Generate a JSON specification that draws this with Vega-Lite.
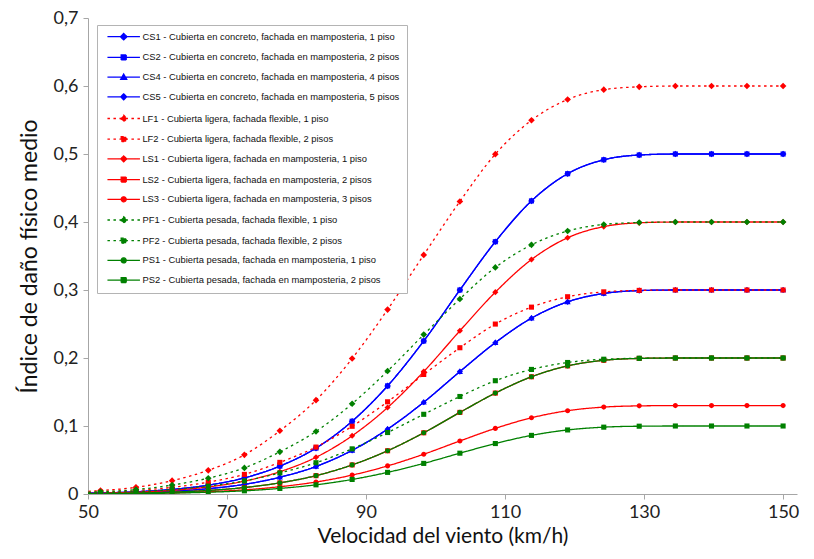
{
  "$schema": "https://vega.github.io/schema/vega-lite/v6.json",
  "width": 709,
  "height": 476,
  "autosize": "none",
  "padding": {"left": 88, "top": 18, "right": 17, "bottom": 65},
  "background": "white",
  "config": {"view": {"stroke": null}, "font": "Lato"},
  "datasets": {
    "nombres": [
      {"s": "CS1", "label": "CS1 - Cubierta en concreto, fachada en mamposteria, 1 piso"},
      {"s": "CS2", "label": "CS2 - Cubierta en concreto, fachada en mamposteria, 2 pisos"},
      {"s": "CS4", "label": "CS4 - Cubierta en concreto, fachada en mamposteria, 4 pisos"},
      {"s": "CS5", "label": "CS5 - Cubierta en concreto, fachada en mamposteria, 5 pisos"},
      {"s": "LF1", "label": "LF1 - Cubierta ligera, fachada flexible, 1 piso"},
      {"s": "LF2", "label": "LF2 - Cubierta ligera, fachada flexible, 2 pisos"},
      {"s": "LS1", "label": "LS1 - Cubierta ligera, fachada en mamposteria, 1 piso"},
      {"s": "LS2", "label": "LS2 - Cubierta ligera, fachada en mamposteria, 2 pisos"},
      {"s": "LS3", "label": "LS3 - Cubierta ligera, fachada en mamposteria, 3 pisos"},
      {"s": "PF1", "label": "PF1 - Cubierta pesada, fachada flexible, 1 piso"},
      {"s": "PF2", "label": "PF2 - Cubierta pesada, fachada flexible, 2 pisos"},
      {"s": "PS1", "label": "PS1 - Cubierta pesada, fachada en mamposteria, 1 piso"},
      {"s": "PS2", "label": "PS2 - Cubierta pesada, fachada en mamposteria, 2 pisos"}
    ],
    "curvas": [
      {"x": 46.6, "CS1": 0.0007, "CS2": 0.0007, "CS4": 0.0004, "CS5": 0.0004, "LF1": 0.0024, "LF2": 0.0012, "LS1": 0.0005, "LS2": 0.0003, "LS3": 0.0002, "PF1": 0.0016, "PF2": 0.0008, "PS1": 0.0003, "PS2": 0.0001},
      {"x": 51.8, "CS1": 0.0015, "CS2": 0.0015, "CS4": 0.0009, "CS5": 0.0009, "LF1": 0.005, "LF2": 0.0025, "LS1": 0.0012, "LS2": 0.0006, "LS3": 0.0004, "PF1": 0.0033, "PF2": 0.0017, "PS1": 0.0006, "PS2": 0.0003},
      {"x": 56.9, "CS1": 0.0033, "CS2": 0.0033, "CS4": 0.002, "CS5": 0.002, "LF1": 0.0098, "LF2": 0.0049, "LS1": 0.0026, "LS2": 0.0013, "LS3": 0.0008, "PF1": 0.0065, "PF2": 0.0033, "PS1": 0.0013, "PS2": 0.0007},
      {"x": 62.1, "CS1": 0.0067, "CS2": 0.0067, "CS4": 0.004, "CS5": 0.004, "LF1": 0.0196, "LF2": 0.0098, "LS1": 0.0054, "LS2": 0.0027, "LS3": 0.0017, "PF1": 0.0131, "PF2": 0.0065, "PS1": 0.0027, "PS2": 0.0013},
      {"x": 67.3, "CS1": 0.013, "CS2": 0.013, "CS4": 0.0078, "CS5": 0.0078, "LF1": 0.0348, "LF2": 0.0174, "LS1": 0.0104, "LS2": 0.0052, "LS3": 0.0034, "PF1": 0.0232, "PF2": 0.0116, "PS1": 0.0052, "PS2": 0.0026},
      {"x": 72.5, "CS1": 0.0237, "CS2": 0.0237, "CS4": 0.0142, "CS5": 0.0142, "LF1": 0.0576, "LF2": 0.0288, "LS1": 0.0189, "LS2": 0.0095, "LS3": 0.0061, "PF1": 0.0384, "PF2": 0.0192, "PS1": 0.0095, "PS2": 0.0047},
      {"x": 77.6, "CS1": 0.041, "CS2": 0.041, "CS4": 0.0246, "CS5": 0.0246, "LF1": 0.093, "LF2": 0.0465, "LS1": 0.0328, "LS2": 0.0164, "LS3": 0.0107, "PF1": 0.062, "PF2": 0.031, "PS1": 0.0164, "PS2": 0.0082},
      {"x": 82.8, "CS1": 0.0675, "CS2": 0.0675, "CS4": 0.0405, "CS5": 0.0405, "LF1": 0.138, "LF2": 0.069, "LS1": 0.054, "LS2": 0.027, "LS3": 0.0176, "PF1": 0.092, "PF2": 0.046, "PS1": 0.027, "PS2": 0.0135},
      {"x": 88.0, "CS1": 0.107, "CS2": 0.107, "CS4": 0.0642, "CS5": 0.0642, "LF1": 0.1992, "LF2": 0.0996, "LS1": 0.0856, "LS2": 0.0428, "LS3": 0.0278, "PF1": 0.1328, "PF2": 0.0664, "PS1": 0.0428, "PS2": 0.0214},
      {"x": 93.1, "CS1": 0.159, "CS2": 0.159, "CS4": 0.0954, "CS5": 0.0954, "LF1": 0.2712, "LF2": 0.1356, "LS1": 0.1272, "LS2": 0.0636, "LS3": 0.0413, "PF1": 0.1808, "PF2": 0.0904, "PS1": 0.0636, "PS2": 0.0318},
      {"x": 98.3, "CS1": 0.225, "CS2": 0.225, "CS4": 0.135, "CS5": 0.135, "LF1": 0.3516, "LF2": 0.1758, "LS1": 0.18, "LS2": 0.09, "LS3": 0.0585, "PF1": 0.2344, "PF2": 0.1172, "PS1": 0.09, "PS2": 0.045},
      {"x": 103.5, "CS1": 0.3, "CS2": 0.3, "CS4": 0.18, "CS5": 0.18, "LF1": 0.4302, "LF2": 0.2151, "LS1": 0.24, "LS2": 0.12, "LS3": 0.078, "PF1": 0.2868, "PF2": 0.1434, "PS1": 0.12, "PS2": 0.06},
      {"x": 108.6, "CS1": 0.371, "CS2": 0.371, "CS4": 0.2226, "CS5": 0.2226, "LF1": 0.4998, "LF2": 0.2499, "LS1": 0.2968, "LS2": 0.1484, "LS3": 0.0965, "PF1": 0.3332, "PF2": 0.1666, "PS1": 0.1484, "PS2": 0.0742},
      {"x": 113.8, "CS1": 0.431, "CS2": 0.431, "CS4": 0.2586, "CS5": 0.2586, "LF1": 0.5496, "LF2": 0.2748, "LS1": 0.3448, "LS2": 0.1724, "LS3": 0.1121, "PF1": 0.3664, "PF2": 0.1832, "PS1": 0.1724, "PS2": 0.0862},
      {"x": 119.0, "CS1": 0.471, "CS2": 0.471, "CS4": 0.2826, "CS5": 0.2826, "LF1": 0.5802, "LF2": 0.2901, "LS1": 0.3768, "LS2": 0.1884, "LS3": 0.1225, "PF1": 0.3868, "PF2": 0.1934, "PS1": 0.1884, "PS2": 0.0942},
      {"x": 124.2, "CS1": 0.4915, "CS2": 0.4915, "CS4": 0.2949, "CS5": 0.2949, "LF1": 0.5946, "LF2": 0.2973, "LS1": 0.3932, "LS2": 0.1966, "LS3": 0.1278, "PF1": 0.3964, "PF2": 0.1982, "PS1": 0.1966, "PS2": 0.0983},
      {"x": 129.3, "CS1": 0.4985, "CS2": 0.4985, "CS4": 0.2991, "CS5": 0.2991, "LF1": 0.5988, "LF2": 0.2994, "LS1": 0.3988, "LS2": 0.1994, "LS3": 0.1296, "PF1": 0.3992, "PF2": 0.1996, "PS1": 0.1994, "PS2": 0.0997},
      {"x": 134.5, "CS1": 0.5, "CS2": 0.5, "CS4": 0.3, "CS5": 0.3, "LF1": 0.6, "LF2": 0.3, "LS1": 0.4, "LS2": 0.2, "LS3": 0.13, "PF1": 0.4, "PF2": 0.2, "PS1": 0.2, "PS2": 0.1},
      {"x": 139.7, "CS1": 0.5, "CS2": 0.5, "CS4": 0.3, "CS5": 0.3, "LF1": 0.6, "LF2": 0.3, "LS1": 0.4, "LS2": 0.2, "LS3": 0.13, "PF1": 0.4, "PF2": 0.2, "PS1": 0.2, "PS2": 0.1},
      {"x": 144.8, "CS1": 0.5, "CS2": 0.5, "CS4": 0.3, "CS5": 0.3, "LF1": 0.6, "LF2": 0.3, "LS1": 0.4, "LS2": 0.2, "LS3": 0.13, "PF1": 0.4, "PF2": 0.2, "PS1": 0.2, "PS2": 0.1},
      {"x": 150.0, "CS1": 0.5, "CS2": 0.5, "CS4": 0.3, "CS5": 0.3, "LF1": 0.6, "LF2": 0.3, "LS1": 0.4, "LS2": 0.2, "LS3": 0.13, "PF1": 0.4, "PF2": 0.2, "PS1": 0.2, "PS2": 0.1}
    ]
  },
  "data": {"name": "curvas"},
  "transform": [
    {"fold": ["CS1", "CS2", "CS4", "CS5", "LF1", "LF2", "LS1", "LS2", "LS3", "PF1", "PF2", "PS1", "PS2"], "as": ["s", "y"]},
    {"lookup": "s", "from": {"data": {"name": "nombres"}, "key": "s", "fields": ["label"]}}
  ],
  "encoding": {
    "x": {
      "field": "x", "type": "quantitative",
      "scale": {"domain": [50, 152], "nice": false, "zero": false},
      "axis": {
        "title": "Velocidad del viento (km/h)",
        "values": [50, 70, 90, 110, 130, 150],
        "grid": false, "labelFlush": false,
        "domainColor": "#a6a6a6", "tickColor": "#a6a6a6", "tickSize": 5,
        "labelFontSize": 18, "labelColor": "#222222", "labelPadding": 4, "labelFont": "Lato",
        "titleFontSize": 21, "titleFontWeight": "normal", "titleColor": "#111111", "titlePadding": 4, "titleFont": "Lato"
      }
    },
    "y": {
      "field": "y", "type": "quantitative",
      "scale": {"domain": [0, 0.7], "nice": false},
      "axis": {
        "title": "Índice de daño físico medio",
        "values": [0, 0.1, 0.2, 0.3, 0.4, 0.5, 0.6, 0.7],
        "labelExpr": "replace(format(datum.value, '.1~f'), '.', ',')",
        "grid": false, "labelFlush": false,
        "domainColor": "#a6a6a6", "tickColor": "#a6a6a6", "tickSize": 5,
        "labelFontSize": 18, "labelColor": "#222222", "labelPadding": 5, "labelFont": "Lato",
        "titleFontSize": 23, "titleFontWeight": "normal", "titleColor": "#111111", "titlePadding": 12, "titleFont": "Lato"
      }
    },
    "color": {
      "field": "label", "type": "nominal",
      "scale": {
        "domain": [
          "CS1 - Cubierta en concreto, fachada en mamposteria, 1 piso",
          "CS2 - Cubierta en concreto, fachada en mamposteria, 2 pisos",
          "CS4 - Cubierta en concreto, fachada en mamposteria, 4 pisos",
          "CS5 - Cubierta en concreto, fachada en mamposteria, 5 pisos",
          "LF1 - Cubierta ligera, fachada flexible, 1 piso",
          "LF2 - Cubierta ligera, fachada flexible, 2 pisos",
          "LS1 - Cubierta ligera, fachada en mamposteria, 1 piso",
          "LS2 - Cubierta ligera, fachada en mamposteria, 2 pisos",
          "LS3 - Cubierta ligera, fachada en mamposteria, 3 pisos",
          "PF1 - Cubierta pesada, fachada flexible, 1 piso",
          "PF2 - Cubierta pesada, fachada flexible, 2 pisos",
          "PS1 - Cubierta pesada, fachada en mamposteria, 1 piso",
          "PS2 - Cubierta pesada, fachada en mamposteria, 2 pisos"
        ],
        "range": ["#0000ff", "#0000ff", "#0000ff", "#0000ff", "#ff0000", "#ff0000", "#ff0000", "#ff0000", "#ff0000", "#008000", "#008000", "#008000", "#008000"]
      },
      "legend": {
        "title": null,
        "orient": "none", "legendX": 9, "legendY": 7,
        "padding": 7,
        "strokeColor": "#b4b4b4", "fillColor": "#ffffff",
        "labelFont": "Liberation Sans", "labelFontSize": 9.4, "labelColor": "#111111", "labelLimit": 400,
        "symbolSize": 25, "symbolOffset": 15, "labelOffset": 14, "rowPadding": 8.7, "symbolStrokeWidth": 1.3,
        "encode": {
          "symbols": {
            "update": {
              "shape": {"signal": "'M-6.5,0H6.5' + scale('shape', slice(datum.value, 0, 3))"},
              "strokeDash": {"signal": "scale('strokeDash', slice(datum.value, 0, 3))"},
              "fill": {"scale": "color", "field": "value"},
              "stroke": {"scale": "color", "field": "value"},
              "strokeWidth": {"value": 1.3},
              "opacity": {"value": 1}
            }
          }
        }
      }
    }
  },
  "layer": [
    {
      "mark": {"type": "line", "strokeWidth": 1.3, "interpolate": "monotone", "clip": true},
      "encoding": {
        "strokeDash": {
          "field": "s", "type": "nominal", "legend": null,
          "scale": {
            "domain": ["CS1", "CS2", "CS4", "CS5", "LF1", "LF2", "LS1", "LS2", "LS3", "PF1", "PF2", "PS1", "PS2"],
            "range": [[1, 0], [1, 0], [1, 0], [1, 0], [2.5, 3.5], [2.5, 3.5], [1, 0], [1, 0], [1, 0], [2.5, 3.5], [2.5, 3.5], [1, 0], [1, 0]]
          }
        }
      }
    },
    {
      "mark": {"type": "point", "filled": true, "size": 26, "opacity": 1, "clip": true},
      "encoding": {
        "shape": {
          "field": "s", "type": "nominal", "legend": null,
          "scale": {
            "domain": ["CS1", "CS2", "CS4", "CS5", "LF1", "LF2", "LS1", "LS2", "LS3", "PF1", "PF2", "PS1", "PS2"],
            "range": [
              "M0,-1.3L1.3,0L0,1.3L-1.3,0Z",
              "M-1,-1H1V1H-1Z",
              "M0,-1.2L1.2,0.9H-1.2Z",
              "M0,-1.2L1.2,0L0,1.2L-1.2,0Z",
              "M0,-1.3L1.3,0L0,1.3L-1.3,0Z",
              "M-1,-1H1V1H-1Z",
              "M0,-1.2L1.2,0L0,1.2L-1.2,0Z",
              "M-1,-1H1V1H-1Z",
              "M-1,0A1,1,0,1,0,1,0A1,1,0,1,0,-1,0Z",
              "M0,-1.3L1.3,0L0,1.3L-1.3,0Z",
              "M-1,-1H1V1H-1Z",
              "M-1,0A1,1,0,1,0,1,0A1,1,0,1,0,-1,0Z",
              "M-1,-1H1V1H-1Z"
            ]
          }
        }
      }
    }
  ]
}
